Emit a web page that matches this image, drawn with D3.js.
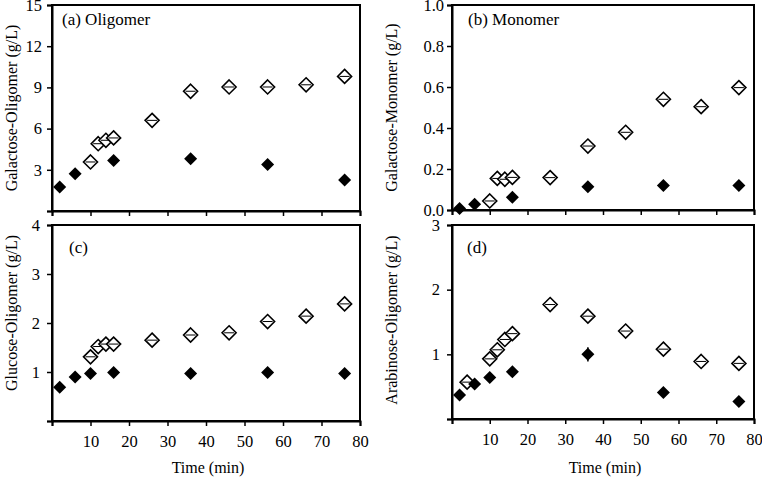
<!DOCTYPE html>
<html>
<head>
<meta charset="utf-8">
<script src="https://cdn.jsdelivr.net/npm/d3@7"></script>
<style>
  html, body { margin: 0; padding: 0; background: #fff; }
  svg, svg text { font-family: "Liberation Serif", "Times New Roman", Times, "DejaVu Serif", serif !important; }
</style>
</head>
<body>
<svg id="chart" width="762" height="478"></svg>
<script>
// ---- Data ----
const xTicks = [0, 10, 20, 30, 40, 50, 60, 70, 80];

// (a) Galactose oligomer
const aFilledTime = [2, 6, 16, 36, 56, 76];
const aFilledVal  = [1.74, 2.71, 3.67, 3.80, 3.39, 2.25];
const aOpenTime   = [10, 12, 14, 16, 26, 36, 46, 56, 66, 76];
const aOpenVal    = [3.57, 4.90, 5.15, 5.32, 6.60, 8.72, 9.03, 9.03, 9.19, 9.80];
const aYTicks     = [0, 3, 6, 9, 12, 15];

// (b) Galactose monomer
const bFilledTime = [2, 6, 16, 36, 56, 76];
const bFilledVal  = [0.007, 0.028, 0.062, 0.114, 0.119, 0.119];
const bOpenTime   = [10, 12, 14, 16, 26, 36, 46, 56, 66, 76];
const bOpenVal    = [0.044, 0.154, 0.150, 0.159, 0.158, 0.312, 0.379, 0.540, 0.504, 0.597];
const bYTicks     = [0, 0.2, 0.4, 0.6, 0.8, 1.0];

// (c) Glucose oligomer
const cFilledTime = [2, 6, 10, 16, 36, 56, 76];
const cFilledVal  = [0.69, 0.90, 0.97, 0.99, 0.97, 0.99, 0.97];
const cOpenTime   = [10, 12, 14, 16, 26, 36, 46, 56, 66, 76];
const cOpenVal    = [1.31, 1.52, 1.57, 1.57, 1.65, 1.755, 1.80, 2.03, 2.14, 2.39];
const cYTicks     = [0, 1, 2, 3, 4];

// (d) Arabinose oligomer
const dFilledTime = [2, 6, 10, 16, 36, 56, 76];
const dFilledVal  = [0.37, 0.54, 0.64, 0.73, 1.00, 0.41, 0.27];
const dFilledErr  = [0, 0, 0, 0, 0.11, 0, 0];
const dOpenTime   = [4, 10, 12, 14, 16, 26, 36, 46, 56, 66, 76];
const dOpenVal    = [0.57, 0.93, 1.07, 1.23, 1.32, 1.77, 1.59, 1.36, 1.08, 0.89, 0.86];
const dYTicks     = [0, 1, 2, 3];

const FONT = '"Liberation Serif", "Times New Roman", Times, serif';

// ---- Panels ----
const panels = [
  { x0: 52, x1: 360, y0: 5, y1: 211, ymax: 15, yTicks: aYTicks, fmt: d => d === 0 ? "" : d3.format("d")(d), pad: 5,
    ytitle: "Galactose-Oligomer (g/L)", ytitleX: 11, label: "(a) Oligomer", lx: 62, ly: 25,
    filledT: aFilledTime, filledV: aFilledVal, openT: aOpenTime, openV: aOpenVal, xLabels: false },
  { x0: 452, x1: 754, y0: 5, y1: 210, ymax: 1.0, yTicks: bYTicks, fmt: d3.format(".1f"), pad: 3,
    ytitle: "Galactose-Monomer (g/L)", ytitleX: 391, label: "(b) Monomer", lx: 468, ly: 25,
    filledT: bFilledTime, filledV: bFilledVal, openT: bOpenTime, openV: bOpenVal, xLabels: false },
  { x0: 52, x1: 360, y0: 225, y1: 421, ymax: 4, yTicks: cYTicks, fmt: d => d === 0 ? "" : d3.format("d")(d), pad: 7,
    ytitle: "Glucose-Oligomer (g/L)", ytitleX: 11, label: "(c)", lx: 69, ly: 253, tcy: 313,
    filledT: cFilledTime, filledV: cFilledVal, openT: cOpenTime, openV: cOpenVal, xLabels: true },
  { x0: 452, x1: 754, y0: 225, y1: 419, ymax: 3, yTicks: dYTicks, fmt: d => d === 0 ? "" : d3.format("d")(d), pad: 7,
    ytitle: "Arabinose-Oligomer (g/L)", ytitleX: 391, label: "(d)", lx: 467, ly: 253, tcy: 320,
    filledT: dFilledTime, filledV: dFilledVal, filledE: dFilledErr, openT: dOpenTime, openV: dOpenVal, xLabels: true }
];

const svg = d3.select("#chart");

panels.forEach(p => {
  const x = d3.scaleLinear().domain([0, 80]).range([p.x0, p.x1]);
  const y = d3.scaleLinear().domain([0, p.ymax]).range([p.y1, p.y0]);
  const g = svg.append("g");

  // frame
  g.append("rect")
    .attr("x", p.x0).attr("y", p.y0)
    .attr("width", p.x1 - p.x0).attr("height", p.y1 - p.y0)
    .attr("fill", "none").attr("stroke", "#000").attr("stroke-width", 2);

  // y axis
  const ya = g.append("g").attr("transform", `translate(${p.x0},0)`)
    .call(d3.axisLeft(y).tickValues(p.yTicks).tickFormat(p.fmt).tickSize(5).tickPadding(p.pad));
  ya.attr("font-family", FONT);
  ya.select(".domain").attr("stroke-width", 2);
  ya.selectAll(".tick line").attr("stroke-width", 1.5);
  ya.selectAll("text").attr("font-size", 16.5).attr("font-family", FONT).attr("fill", "#000");

  // x axis
  const xa = g.append("g").attr("transform", `translate(0,${p.y1})`)
    .call(d3.axisBottom(x).tickValues(xTicks)
      .tickFormat(d => (p.xLabels && d !== 0) ? d : "").tickSize(5).tickPadding(9));
  xa.attr("font-family", FONT);
  xa.select(".domain").attr("stroke-width", 2);
  xa.selectAll(".tick line").attr("stroke-width", 1.5);
  xa.selectAll("text").attr("font-size", 16.5).attr("font-family", FONT).attr("fill", "#000");

  if (p.xLabels) {
    g.append("text")
      .attr("x", (p.x0 + p.x1) / 2 + 2).attr("y", 473)
      .attr("text-anchor", "middle").attr("font-size", 16).attr("font-family", FONT)
      .text("Time (min)");
  }

  // y title
  const tcy = p.tcy !== undefined ? p.tcy : (p.y0 + p.y1) / 2;
  g.append("text")
    .attr("transform", `translate(${p.ytitleX},${tcy}) rotate(-90)`)
    .attr("text-anchor", "middle").attr("dominant-baseline", "central")
    .attr("font-size", 16).attr("font-family", FONT)
    .text(p.ytitle);

  // panel label
  g.append("text")
    .attr("x", p.lx).attr("y", p.ly)
    .attr("font-size", 17).attr("font-family", FONT)
    .text(p.label);

  // open diamonds
  const open = p.openT.map((t, i) => ({ t, v: p.openV[i] }));
  const og = g.selectAll(".open").data(open).enter().append("g")
    .attr("transform", d => `translate(${x(d.t)},${y(d.v)})`);
  og.append("path")
    .attr("d", "M0,-7L7,0L0,7L-7,0Z")
    .attr("fill", "#fff").attr("stroke", "#000").attr("stroke-width", 1.6);
  og.append("line")
    .attr("x1", -5).attr("x2", 5).attr("y1", 0).attr("y2", 0)
    .attr("stroke", "#000").attr("stroke-width", 1);

  // filled diamonds
  const filled = p.filledT.map((t, i) => ({ t, v: p.filledV[i], e: p.filledE ? p.filledE[i] : 0 }));
  filled.filter(d => d.e > 0).forEach(d => {
    g.append("line")
      .attr("x1", x(d.t)).attr("x2", x(d.t))
      .attr("y1", y(d.v - d.e)).attr("y2", y(d.v + d.e))
      .attr("stroke", "#000").attr("stroke-width", 1.5);
  });
  g.selectAll(".filled").data(filled).enter().append("path")
    .attr("transform", d => `translate(${x(d.t)},${y(d.v)})`)
    .attr("d", "M0,-6.5L6.5,0L0,6.5L-6.5,0Z")
    .attr("fill", "#000");
});
</script>
</body>
</html>
